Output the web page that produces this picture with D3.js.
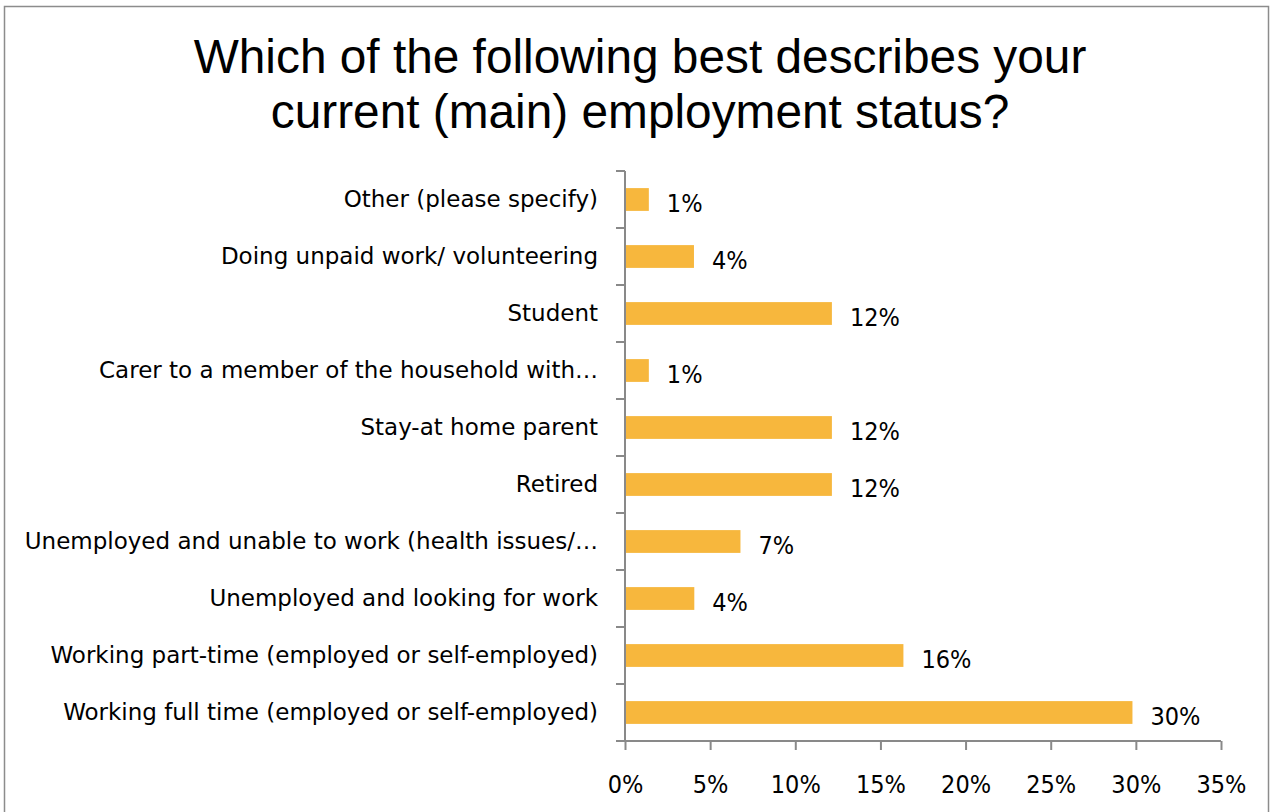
<!DOCTYPE html>
<html>
<head>
<meta charset="utf-8">
<script src="https://cdn.jsdelivr.net/npm/d3@7"></script>
<style>
  html, body { margin: 0; padding: 0; background: #fff; }
  svg { display: block; }
</style>
</head>
<body>
<svg id="chart" width="1273" height="812"></svg>
<script>
// Survey responses: share of respondents per employment status
const categories = [
  "Other (please specify)",
  "Doing unpaid work/ volunteering",
  "Student",
  "Carer to a member of the household with\u2026",
  "Stay-at home parent",
  "Retired",
  "Unemployed and unable to work (health issues/\u2026",
  "Unemployed and looking for work",
  "Working part-time (employed or self-employed)",
  "Working full time (employed or self-employed)"
];
const shares = [0.014, 0.0405, 0.1215, 0.014, 0.1215, 0.1215, 0.0678, 0.0407, 0.1635, 0.298];
const xTicks = [0, 0.05, 0.10, 0.15, 0.20, 0.25, 0.30, 0.35];
const titleLines = [
  "Which of the following best describes your",
  "current (main) employment status?"
];

const svg = d3.select("#chart");

// outer frame
svg.append("rect")
  .attr("x", 4.5).attr("y", 6.5)
  .attr("width", 1264).attr("height", 820)
  .attr("fill", "#fff")
  .attr("stroke", "#8c8c8c").attr("stroke-width", 1.5);

// title
svg.append("g").selectAll("text")
  .data(titleLines)
  .join("text")
  .attr("x", 640)
  .attr("y", (d, i) => 73 + i * 55)
  .attr("text-anchor", "middle")
  .attr("font-family", "'Liberation Sans', Arial, sans-serif")
  .attr("font-size", 47.8)
  .attr("fill", "#000")
  .text(d => d);

const plot = { left: 625, right: 1221, top: 171, bottom: 741 };

const x = d3.scaleLinear().domain([0, 0.35]).range([plot.left, plot.right]);
const y = d3.scaleBand().domain(categories).range([plot.top, plot.bottom]).paddingInner(0.6).paddingOuter(0.3);

const axisColor = "#898989";
const narrowFont = "'DejaVu Sans Condensed', 'DejaVu Sans', sans-serif";

// bars
svg.append("g").selectAll("rect")
  .data(categories)
  .join("rect")
  .attr("x", x(0))
  .attr("y", d => y(d))
  .attr("width", (d, i) => x(shares[i]) - x(0))
  .attr("height", y.bandwidth())
  .attr("fill", "#F7B73D");

// value labels
const fmt = d3.format(".0%");
svg.append("g").selectAll("text")
  .data(categories)
  .join("text")
  .attr("x", (d, i) => x(shares[i]) + 18)
  .attr("y", d => y(d) + y.bandwidth() / 2 + 4)
  .attr("dy", "0.35em")
  .attr("font-family", narrowFont)
  .attr("font-stretch", "condensed")
  .attr("font-size", 25)
  .attr("fill", "#000")
  .text((d, i) => fmt(shares[i]));

// y axis: vertical line with tick marks on band boundaries
const yAxisG = svg.append("g");
yAxisG.append("line")
  .attr("x1", plot.left).attr("x2", plot.left)
  .attr("y1", plot.top).attr("y2", plot.bottom)
  .attr("stroke", axisColor).attr("stroke-width", 2);
const boundaries = d3.range(categories.length + 1).map(i => plot.top + i * y.step());
yAxisG.selectAll("line.tick")
  .data(boundaries)
  .join("line")
  .attr("class", "tick")
  .attr("x1", plot.left - 9).attr("x2", plot.left)
  .attr("y1", d => d).attr("y2", d => d)
  .attr("stroke", axisColor).attr("stroke-width", 2);

// category labels
yAxisG.selectAll("text")
  .data(categories)
  .join("text")
  .attr("x", plot.left - 27)
  .attr("y", d => y(d) + y.bandwidth() / 2 - 1)
  .attr("dy", "0.35em")
  .attr("text-anchor", "end")
  .attr("font-family", "'DejaVu Sans', sans-serif")
  .attr("font-size", 23)
  .attr("fill", "#000")
  .text(d => d);

// x axis
const xAxis = d3.axisBottom(x)
  .tickValues(xTicks)
  .tickFormat(d3.format(".0%"))
  .tickSizeInner(9)
  .tickSizeOuter(0)
  .tickPadding(25);
const xg = svg.append("g")
  .attr("transform", `translate(0,${plot.bottom})`)
  .call(xAxis);
xg.select(".domain").attr("stroke", axisColor).attr("stroke-width", 2)
  .attr("d", `M${plot.left - 9},0H${plot.right}`);
xg.selectAll(".tick line").attr("stroke", axisColor).attr("stroke-width", 2);
xg.selectAll(".tick text")
  .attr("font-family", narrowFont)
  .attr("font-stretch", "condensed")
  .attr("font-size", 25)
  .attr("fill", "#000");
</script>
</body>
</html>
